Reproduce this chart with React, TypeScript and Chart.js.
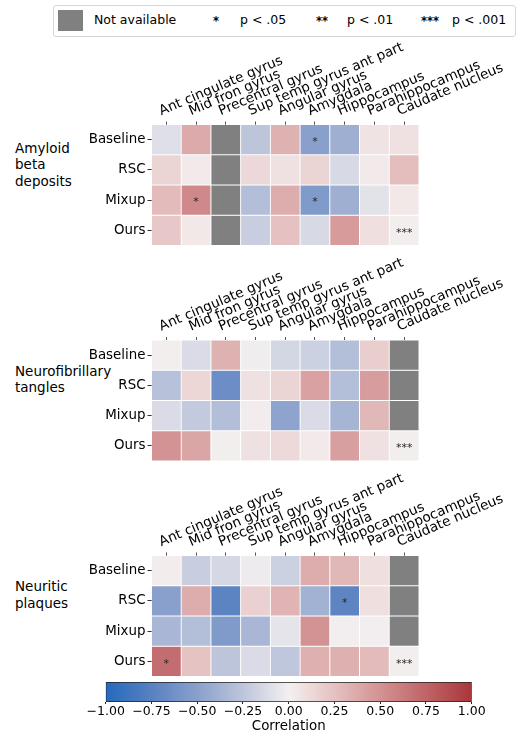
import React, { useEffect, useRef } from "react";
import { Chart, registerables } from "chart.js";

Chart.register(...registerables);

const FONT = "'DejaVu Sans', 'Liberation Sans', sans-serif";
Chart.defaults.font.family = FONT;

// ---------------- data ----------------
const REGIONS = [
  "Ant cingulate gyrus",
  "Mid fron gyrus",
  "Precentral gyrus",
  "Sup temp gyrus ant part",
  "Angular gyrus",
  "Amygdala",
  "Hippocampus",
  "Parahippocampus",
  "Caudate nucleus",
];
const METHODS = ["Baseline", "RSC", "Mixup", "Ours"];

// correlation values per method row (null = not available)
const AMYLOID = [
  [-0.1, 0.37, null, -0.25, 0.33, -0.5, -0.4, 0.07, 0.08],
  [0.15, 0.03, null, 0.13, 0.08, 0.15, -0.13, 0.03, 0.27],
  [0.28, 0.55, null, -0.3, 0.36, -0.55, -0.4, -0.08, 0.04],
  [0.22, 0.04, null, -0.2, 0.25, -0.13, 0.45, 0.09, 0.01],
];
const AMYLOID_SIG = [
  ["", "", "", "", "", "*", "", "", ""],
  ["", "", "", "", "", "", "", "", ""],
  ["", "*", "", "", "", "*", "", "", ""],
  ["", "", "", "", "", "", "", "", "***"],
];

const TANGLES = [
  [0.01, -0.12, 0.33, -0.02, -0.15, -0.18, -0.3, 0.18, null],
  [-0.28, 0.14, -0.65, 0.08, 0.15, 0.42, -0.3, 0.44, null],
  [-0.12, -0.22, -0.3, 0.02, -0.48, -0.12, -0.36, 0.3, null],
  [0.5, 0.4, 0.01, 0.08, 0.12, 0.03, 0.43, 0.08, 0.01],
];
const TANGLES_SIG = [
  ["", "", "", "", "", "", "", "", ""],
  ["", "", "", "", "", "", "", "", ""],
  ["", "", "", "", "", "", "", "", ""],
  ["", "", "", "", "", "", "", "", "***"],
];

const PLAQUES = [
  [0.02, -0.2, -0.14, -0.03, -0.18, 0.36, 0.3, 0.09, null],
  [-0.5, 0.36, -0.73, 0.17, 0.32, -0.38, -0.72, 0.09, null],
  [-0.35, -0.3, -0.55, -0.35, -0.07, 0.5, -0.01, -0.01, null],
  [0.7, 0.24, -0.25, -0.12, -0.24, 0.34, 0.34, 0.28, 0.01],
];
const PLAQUES_SIG = [
  ["", "", "", "", "", "", "", "", ""],
  ["", "", "", "", "", "", "*", "", ""],
  ["", "", "", "", "", "", "", "", ""],
  ["*", "", "", "", "", "", "", "", "***"],
];

const CBAR_MIN = -1;
const CBAR_MAX = 1;
const CBAR_STEP = 0.25;

// ---------------- style ----------------
const NA_COLOR = "#808080";
const CMAP: [number, number[]][] = [
  [-1.0, [35, 105, 189]],
  [-0.75, [88, 129, 193]],
  [-0.5, [138, 160, 204]],
  [-0.25, [189, 197, 219]],
  [0.0, [244, 240, 240]],
  [0.25, [229, 193, 193]],
  [0.5, [211, 146, 147]],
  [0.75, [191, 100, 103]],
  [1.0, [169, 55, 59]],
];

function cmap(v: number): string {
  const x = Math.max(-1, Math.min(1, v));
  for (let i = 0; i < CMAP.length - 1; i++) {
    const [a, ca] = CMAP[i];
    const [b, cb] = CMAP[i + 1];
    if (x >= a && x <= b) {
      const t = (x - a) / (b - a);
      const c = ca.map((q, k) => Math.round(q + (cb[k] - q) * t));
      return `rgb(${c[0]},${c[1]},${c[2]})`;
    }
  }
  return "rgb(169,55,59)";
}

const AREA_LEFT = 151.5;
const AREA_RIGHT = 419;
const AREA_H = 121;
const CANVAS_W = 531;
const CANVAS_H = 220;

function Heatmap(props: {
  values: (number | null)[][];
  stars: string[][];
  top: number;
  areaTop: number;
}) {
  const ref = useRef<HTMLCanvasElement>(null);
  useEffect(() => {
    const { values, stars, top, areaTop } = props;
    const xH = areaTop - top;
    const starPlugin = {
      id: "stars",
      afterDatasetsDraw(chart: any) {
        const ctx = chart.ctx;
        const xs = chart.scales.x;
        const ys = chart.scales.y;
        ctx.save();
        ctx.font = `11px ${FONT}`;
        ctx.fillStyle = "#262626";
        ctx.textAlign = "center";
        ctx.textBaseline = "alphabetic";
        stars.forEach((row, r) =>
          row.forEach((s, c) => {
            if (s) {
              ctx.fillText(
                s,
                xs.getPixelForValue(c),
                ys.getPixelForValue(r + 0.5) + 5.3
              );
            }
          })
        );
        ctx.restore();
      },
    };
    const chart = new Chart(ref.current!, {
      type: "bar",
      data: {
        labels: REGIONS,
        datasets: METHODS.map((m, r) => ({
          label: m,
          data: REGIONS.map(() => [r, r + 1]),
          backgroundColor: values[r].map((v) =>
            v === null ? NA_COLOR : cmap(v)
          ),
          borderColor: "#ffffff",
          borderWidth: 0.8,
          borderSkipped: false,
          grouped: false,
          barPercentage: 1,
          categoryPercentage: 1,
        })) as any,
      },
      options: {
        responsive: false,
        animation: false,
        events: [],
        layout: {
          padding: {
            left: 0,
            right: CANVAS_W - AREA_RIGHT,
            top: 0,
            bottom: CANVAS_H - xH - AREA_H,
          },
        },
        plugins: {
          legend: { display: false },
          tooltip: { enabled: false },
        },
        scales: {
          x: {
            position: "top",
            grid: {
              offset: false,
              drawOnChartArea: false,
              tickLength: 3,
              tickColor: "#555",
            },
            border: { display: false },
            ticks: {
              autoSkip: false,
              minRotation: 23,
              maxRotation: 23,
              padding: 2,
              color: "#000",
              font: { family: FONT, size: 13.6 },
            },
            afterFit: (s: any) => {
              s.height = xH;
              s.paddingLeft = 0;
              s.paddingRight = 0;
            },
          },
          y: {
            type: "linear",
            min: 0,
            max: METHODS.length,
            reverse: true,
            afterBuildTicks: (s: any) => {
              s.ticks = METHODS.map((_, i) => ({ value: i + 0.5 }));
            },
            grid: {
              drawOnChartArea: false,
              tickLength: 4,
              tickColor: "#333",
            },
            border: { display: false },
            ticks: {
              padding: 2,
              color: "#000",
              font: { family: FONT, size: 13.4 },
              callback: (v: any) => METHODS[Math.floor(Number(v))],
            },
            afterFit: (s: any) => {
              s.width = AREA_LEFT;
              s.paddingTop = 0;
              s.paddingBottom = 0;
            },
          },
        },
      } as any,
      plugins: [starPlugin],
    });
    return () => chart.destroy();
  }, []);
  return (
    <canvas
      ref={ref}
      width={CANVAS_W}
      height={CANVAS_H}
      style={{
        position: "absolute",
        left: 0,
        top: props.top,
        width: CANVAS_W,
        height: CANVAS_H,
      }}
    />
  );
}

function ColorBar() {
  const ref = useRef<HTMLCanvasElement>(null);
  const top = 672;
  const h = 63;
  useEffect(() => {
    const chart = new Chart(ref.current!, {
      type: "bar",
      data: {
        labels: ["Correlation"],
        datasets: [
          {
            data: [[CBAR_MIN, CBAR_MAX]],
            backgroundColor: (ctx: any) => {
              const area = ctx.chart.chartArea;
              if (!area) return "#fff";
              const g = ctx.chart.ctx.createLinearGradient(
                area.left,
                0,
                area.right,
                0
              );
              for (let i = 0; i <= 40; i++) {
                const v = CBAR_MIN + ((CBAR_MAX - CBAR_MIN) * i) / 40;
                g.addColorStop(i / 40, cmap(v));
              }
              return g;
            },
            borderColor: "#222",
            borderWidth: 1,
            borderSkipped: false,
            barPercentage: 1,
            categoryPercentage: 1,
          },
        ] as any,
      },
      options: {
        indexAxis: "y",
        responsive: false,
        animation: false,
        events: [],
        layout: {
          padding: { left: 105.7, right: CANVAS_W - 471.7, top: 10, bottom: 0 },
        },
        plugins: {
          legend: { display: false },
          tooltip: { enabled: false },
        },
        scales: {
          y: { display: false },
          x: {
            type: "linear",
            min: CBAR_MIN,
            max: CBAR_MAX,
            grid: {
              drawOnChartArea: false,
              tickLength: 2,
              tickColor: "#222",
            },
            border: { display: false },
            afterBuildTicks: (s: any) => {
              const t = [];
              for (let v = CBAR_MIN; v <= CBAR_MAX + 1e-9; v += CBAR_STEP)
                t.push({ value: Math.round(v * 100) / 100 });
              s.ticks = t;
            },
            ticks: {
              padding: 0,
              color: "#000",
              maxRotation: 0,
              minRotation: 0,
              autoSkip: false,
              font: { family: FONT, size: 12.5 },
              callback: (v: any) => {
                const n = Number(v);
                return (n < 0 ? "\u2212" : "") + Math.abs(n).toFixed(2);
              },
            },
            title: {
              display: true,
              text: "Correlation",
              color: "#000",
              font: { family: FONT, size: 13.4 },
              padding: { top: 0, bottom: 0 },
            },
            afterFit: (s: any) => {
              s.height = h - 10 - 20;
              s.paddingLeft = 0;
              s.paddingRight = 0;
            },
          },
        },
      } as any,
    });
    return () => chart.destroy();
  }, []);
  return (
    <canvas
      ref={ref}
      width={CANVAS_W}
      height={h}
      style={{ position: "absolute", left: 0, top, width: CANVAS_W, height: h }}
    />
  );
}

const textStyle = (left: number, top: number, size: number, extra = {}) =>
  ({
    position: "absolute",
    left,
    top,
    fontFamily: FONT,
    fontSize: size,
    lineHeight: "16.5px",
    color: "#000",
    whiteSpace: "nowrap",
    ...extra,
  }) as React.CSSProperties;

function Legend() {
  const cy = 20.5;
  const lh = 16.5;
  const t = cy - lh / 2;
  return (
    <>
      <div
        style={{
          position: "absolute",
          left: 53,
          top: 5,
          width: 461,
          height: 30,
          border: "1px solid #d6d6d6",
          borderRadius: 3,
          background: "#fff",
        }}
      />
      <div
        style={{
          position: "absolute",
          left: 58,
          top: 10,
          width: 25,
          height: 21,
          background: NA_COLOR,
        }}
      />
      <div style={textStyle(94, t, 12.5)}>Not available</div>
      <div style={textStyle(213, t + 1, 11.5, { fontWeight: "bold" })}>*</div>
      <div style={textStyle(240, t, 12.5)}>p &lt; .05</div>
      <div style={textStyle(316, t + 1, 11.5, { fontWeight: "bold" })}>**</div>
      <div style={textStyle(347, t, 12.5)}>p &lt; .01</div>
      <div style={textStyle(421, t + 1, 11.5, { fontWeight: "bold" })}>***</div>
      <div style={textStyle(452, t, 12.5)}>p &lt; .001</div>
    </>
  );
}

export default function App() {
  return (
    <div
      style={{
        position: "absolute",
        left: 0,
        top: 0,
        width: 531,
        height: 735,
        background: "#fff",
        overflow: "hidden",
      }}
    >
      <Legend />
      <div style={textStyle(15, 139.8, 13.5)}>
        Amyloid
        <br />
        beta
        <br />
        deposits
      </div>
      <div style={textStyle(15, 362.5, 13.5)}>
        Neurofibrillary
        <br />
        tangles
      </div>
      <div style={textStyle(15, 578, 13.5)}>
        Neuritic
        <br />
        plaques
      </div>
      <Heatmap values={AMYLOID} stars={AMYLOID_SIG} top={30} areaTop={124.5} />
      <Heatmap values={TANGLES} stars={TANGLES_SIG} top={245} areaTop={340} />
      <Heatmap values={PLAQUES} stars={PLAQUES_SIG} top={461} areaTop={555.5} />
      <ColorBar />
    </div>
  );
}
